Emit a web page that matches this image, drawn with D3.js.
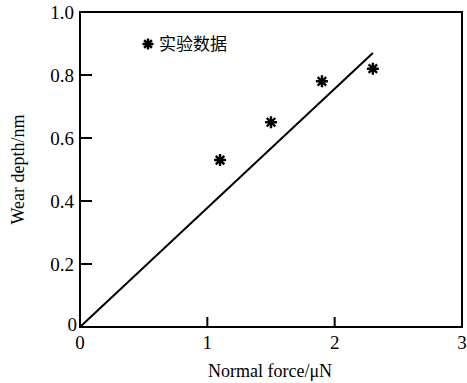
<!DOCTYPE html>
<html>
<head>
<meta charset="utf-8">
<script src="https://cdn.jsdelivr.net/npm/d3@7"></script>
<style>
  body { margin: 0; background: #fff; }
</style>
</head>
<body>
<div id="chart"></div>
<script>
// measured points and fitted line
const forces = [1.1, 1.5, 1.9, 2.3];
const depths = [0.53, 0.65, 0.78, 0.82];
const fitX = [0, 2.3];
const fitY = [0, 0.87];
const xTicks = [0, 1, 2, 3];
const yTicks = [0, 0.2, 0.4, 0.6, 0.8, 1.0];

const W = 467, H = 383;
const margin = { top: 12, right: 5, bottom: 56, left: 80 };
const width = 382, height = H - margin.top - margin.bottom;
const serif = '"Liberation Serif", "Times New Roman", serif';

const svg = d3.select('#chart').append('svg')
  .attr('width', W).attr('height', H);
const g = svg.append('g')
  .attr('transform', `translate(${margin.left},${margin.top})`);

const x = d3.scaleLinear().domain([0, 3]).range([0, width]);
const y = d3.scaleLinear().domain([0, 1]).range([height, 0]);

// frame
g.append('rect')
  .attr('width', width).attr('height', height)
  .attr('fill', 'none').attr('stroke', '#000').attr('stroke-width', 2);

// inward ticks
g.selectAll('.xt').data(xTicks.slice(1, 3)).enter().append('line')
  .attr('x1', d => x(d)).attr('x2', d => x(d))
  .attr('y1', height).attr('y2', height - 10)
  .attr('stroke', '#000').attr('stroke-width', 2);
g.selectAll('.yt').data(yTicks.slice(1, 5)).enter().append('line')
  .attr('x1', 0).attr('x2', 12)
  .attr('y1', d => y(d)).attr('y2', d => y(d))
  .attr('stroke', '#000').attr('stroke-width', 2);

// tick labels
g.selectAll('.xl').data(xTicks).enter().append('text')
  .attr('x', d => x(d)).attr('y', height + 22)
  .attr('text-anchor', 'middle')
  .style('font-family', serif).style('font-size', '19px')
  .text(d => d);
g.selectAll('.yl').data(yTicks).enter().append('text')
  .attr('x', d => d === 0 ? -3 : -6).attr('y', d => y(d) + (d === 0 ? 4 : 7))
  .attr('text-anchor', 'end')
  .style('font-family', serif).style('font-size', '19px')
  .text(d => d === 0 ? '0' : d.toFixed(1));

// axis titles
g.append('text')
  .attr('x', 190).attr('y', height + 50)
  .attr('text-anchor', 'middle')
  .style('font-family', serif).style('font-size', '18px')
  .text('Normal force/\u03BCN');
g.append('text')
  .attr('transform', 'rotate(-90)')
  .attr('x', -height / 2).attr('y', -56)
  .attr('text-anchor', 'middle')
  .style('font-family', serif).style('font-size', '18px')
  .text('Wear depth/nm');

// fitted line
const line = d3.line().x(d => x(d[0])).y(d => y(d[1]));
g.append('path')
  .datum(d3.zip(fitX, fitY))
  .attr('d', line)
  .attr('fill', 'none').attr('stroke', '#000').attr('stroke-width', 2);

// asterisk marker
function star(sel, r) {
  const a = r * Math.SQRT1_2;
  sel.append('path')
    .attr('d', `M${-r},0L${r},0M0,${-r}L0,${r}M${-a},${-a}L${a},${a}M${-a},${a}L${a},${-a}`)
    .attr('stroke', '#000').attr('stroke-width', 2.4).attr('fill', 'none');
}
g.selectAll('.pt').data(d3.zip(forces, depths)).enter().append('g')
  .attr('transform', d => `translate(${x(d[0])},${y(d[1])})`)
  .call(star, 6);

// legend
const lg = g.append('g').attr('transform', 'translate(68,32)');
lg.append('g').call(star, 5.5);
lg.append('text').attr('x', 11).attr('y', 6)
  .style('font-family', '"Noto Sans CJK SC", sans-serif')
  .style('font-size', '17px').text('实验数据');
</script>
</body>
</html>
